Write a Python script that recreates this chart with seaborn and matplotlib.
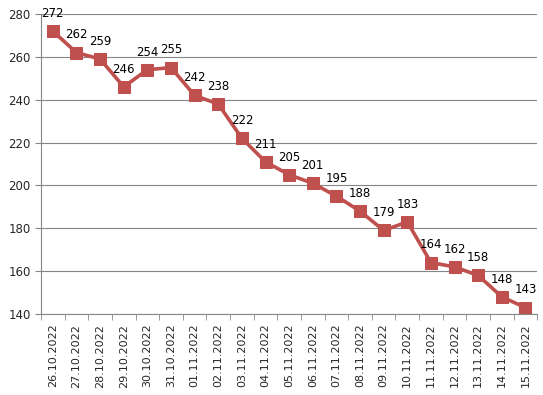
import pandas as pd
import numpy as np
import seaborn as sns
import matplotlib.pyplot as plt

dates = ['26.10.2022', '27.10.2022', '28.10.2022', '29.10.2022', '30.10.2022',
         '31.10.2022', '01.11.2022', '02.11.2022', '03.11.2022', '04.11.2022',
         '05.11.2022', '06.11.2022', '07.11.2022', '08.11.2022', '09.11.2022',
         '10.11.2022', '11.11.2022', '12.11.2022', '13.11.2022', '14.11.2022',
         '15.11.2022']
values = [272, 262, 259, 246, 254, 255, 242, 238, 222, 211, 205, 201, 195,
          188, 179, 183, 164, 162, 158, 148, 143]

df = pd.DataFrame({'pos': np.arange(len(dates)), 'value': values})

sns.set_style('white')
fig = plt.figure(figsize=(5.43, 3.95), dpi=100)
ax = fig.add_axes([0.0755, 0.205, 0.914, 0.7595])

sns.lineplot(data=df, x='pos', y='value', ax=ax, color='#C0504D',
             linewidth=2.6, marker='s', markersize=8,
             markeredgecolor='#C0504D', markerfacecolor='#C0504D')

for i, v in enumerate(values):
    ax.annotate(str(v), (i, v), xytext=(0, 8), textcoords='offset points',
                ha='center', va='bottom', fontsize=8.5, color='black')

ax.set_xlim(-0.5, len(dates) - 0.5)
ax.set_ylim(140, 280)
ax.set_yticks(range(140, 281, 20))
ax.yaxis.grid(True, color='#868686', linewidth=0.8)
ax.set_axisbelow(True)

ax.set_xticks(np.arange(len(dates)))
ax.set_xticklabels(dates, rotation=90, fontsize=8)
ax.set_xticks(np.arange(-0.5, len(dates)), minor=True)
ax.tick_params(axis='x', which='major', length=0, pad=7)
ax.tick_params(axis='x', which='minor', length=4, color='#868686', direction='out')
ax.tick_params(axis='y', length=4, color='#868686', direction='out', labelsize=8.5)
ax.xaxis.set_ticks_position('bottom')
ax.yaxis.set_ticks_position('left')

for s in ['top', 'right']:
    ax.spines[s].set_visible(False)
for s in ['left', 'bottom']:
    ax.spines[s].set_color('#868686')
    ax.spines[s].set_linewidth(0.8)

ax.set_xlabel('')
ax.set_ylabel('')

fig.savefig('out.png', dpi=100)
